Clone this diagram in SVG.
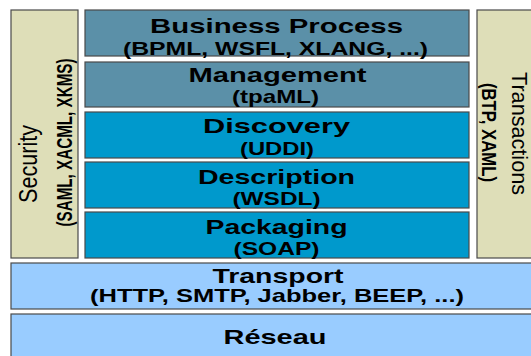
<svg xmlns="http://www.w3.org/2000/svg" width="531" height="356" viewBox="0 0 531 356">
<style>
.box{stroke:#4a4a4a;stroke-width:1.2}
.side{fill:#dedeb8}
.top{fill:#5b90a8}
.mid{fill:#0099cc}
.low{fill:#99ccff}
text{font-family:"Liberation Sans",Arial,sans-serif;fill:#000;text-anchor:middle}
.t{font-size:21px;font-weight:bold}
.s{font-size:18.5px;font-weight:bold}
.v{font-size:25px}
.vb{font-weight:bold}
</style>
<rect width="531" height="356" fill="#ffffff"/>
<g id="security">
<rect class="box side" x="11" y="10" width="67" height="248"/>
<text class="v" transform="translate(37,164) rotate(-90) scale(0.87,1)" textLength="89.7" lengthAdjust="spacingAndGlyphs">Security</text>
<text class="vb" style="font-size:22px" transform="translate(72,142.5) rotate(-90) scale(0.7,1)" textLength="240" lengthAdjust="spacingAndGlyphs">(SAML, XACML, XKMS)</text>
</g>
<g id="transactions">
<rect class="box side" x="477" y="10" width="62" height="248"/>
<text style="font-size:22px" transform="translate(512,133.5) rotate(90) scale(0.97,1)" textLength="126.8" lengthAdjust="spacingAndGlyphs">Transactions</text>
<text class="vb" style="font-size:19.5px" transform="translate(482,132.5) rotate(90) scale(0.84,1)" textLength="117.9" lengthAdjust="spacingAndGlyphs">(BTP, XAML)</text>
</g>
<g id="business-process">
<rect class="box top" x="85" y="10" width="384" height="46"/>
<text class="t" transform="translate(276.5,33) scale(1.38,1)" textLength="183.3" lengthAdjust="spacingAndGlyphs">Business Process</text>
<text class="s" transform="translate(275.5,55) scale(1.38,1)" textLength="221" lengthAdjust="spacingAndGlyphs">(BPML, WSFL, XLANG, ...)</text>
</g>
<g id="management">
<rect class="box top" x="85" y="62" width="384" height="45"/>
<text class="t" transform="translate(277.5,82) scale(1.38,1)" textLength="129" lengthAdjust="spacingAndGlyphs">Management</text>
<text class="s" transform="translate(275.5,103) scale(1.38,1)" textLength="63" lengthAdjust="spacingAndGlyphs">(tpaML)</text>
</g>
<g id="discovery">
<rect class="box mid" x="85" y="112" width="384" height="46"/>
<text class="t" transform="translate(276.5,133) scale(1.38,1)" textLength="106.5" lengthAdjust="spacingAndGlyphs">Discovery</text>
<text class="s" transform="translate(277,154.5) scale(1.38,1)" textLength="53.6" lengthAdjust="spacingAndGlyphs">(UDDI)</text>
</g>
<g id="description">
<rect class="box mid" x="85" y="162" width="384" height="46"/>
<text class="t" transform="translate(276.5,183.5) scale(1.38,1)" textLength="113.8" lengthAdjust="spacingAndGlyphs">Description</text>
<text class="s" transform="translate(276.5,204.5) scale(1.38,1)" textLength="63.8" lengthAdjust="spacingAndGlyphs">(WSDL)</text>
</g>
<g id="packaging">
<rect class="box mid" x="85" y="212" width="384" height="46"/>
<text class="t" transform="translate(276.5,234) scale(1.38,1)" textLength="102.9" lengthAdjust="spacingAndGlyphs">Packaging</text>
<text class="s" transform="translate(276.5,255) scale(1.38,1)" textLength="62.3" lengthAdjust="spacingAndGlyphs">(SOAP)</text>
</g>
<g id="transport">
<rect class="box low" x="11" y="263" width="533" height="46"/>
<text class="t" transform="translate(278,283) scale(1.38,1)" textLength="95" lengthAdjust="spacingAndGlyphs">Transport</text>
<text class="s" transform="translate(277,302) scale(1.38,1)" textLength="271" lengthAdjust="spacingAndGlyphs">(HTTP, SMTP, Jabber, BEEP, ...)</text>
</g>
<g id="reseau">
<rect class="box low" x="11" y="314" width="533" height="50"/>
<text class="t" transform="translate(275,344) scale(1.38,1)" textLength="74.6" lengthAdjust="spacingAndGlyphs">Réseau</text>
</g>
<g id="connectors"></g>
</svg>
